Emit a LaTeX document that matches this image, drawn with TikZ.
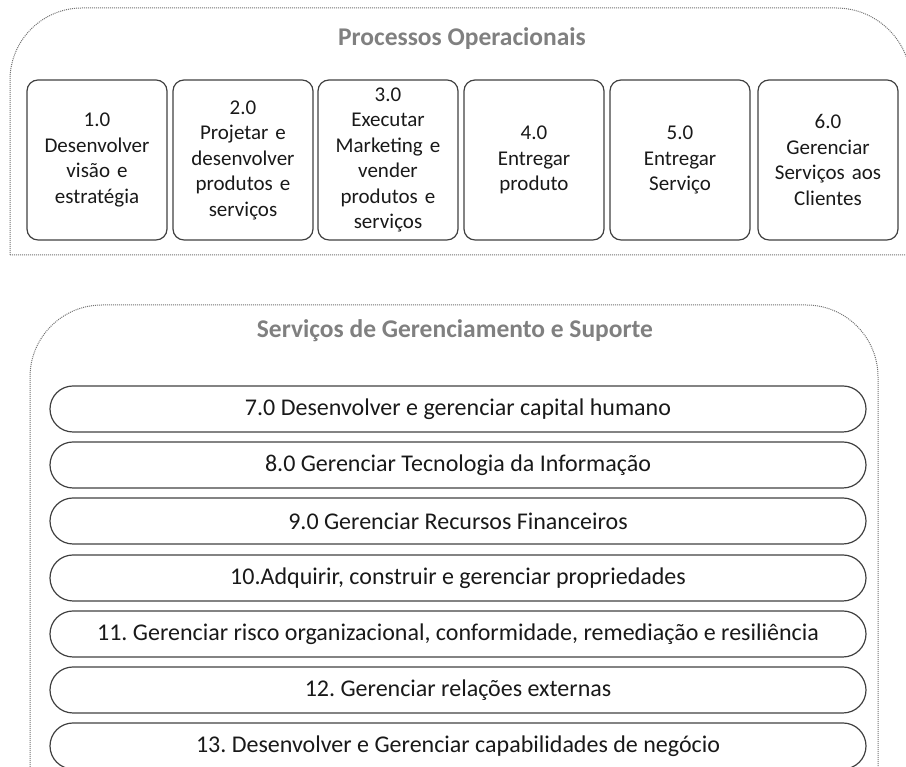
\documentclass[tikz,border=0pt]{standalone}
\usepackage{fontspec}
\setmainfont{Carlito}
\usepackage{tikz}
\frenchspacing

\tikzset{
  procbox/.style={draw=black!75, line width=1.2pt, rounded corners=11pt,
    minimum width=140pt, minimum height=160pt, text width=136pt,
    align=center, inner sep=0pt, text=black!90, font=\fontsize{21}{25.5}\selectfont},
  servpill/.style={draw=black!75, line width=1.2pt, rounded corners=23pt,
    minimum width=816pt, minimum height=46pt, inner sep=0pt,
    text=black!90, font=\fontsize{24}{26}\selectfont},
  grouptitle/.style={text=black!50, font=\fontsize{25.5}{28}\selectfont\bfseries},
  groupline/.style={draw=black!55, densely dotted, line width=1pt}
}

\begin{document}
\begin{tikzpicture}[x=1pt, y=1pt]
            \useasboundingbox (0,0) rectangle (906,767);
            \clip (0,0) rectangle (906,767);

            % processos operacionais
            \draw[groupline] (10,512) -- (10,687) arc[start angle=180, end angle=90, radius=72]
                -- (836,759) arc[start angle=90, end angle=0, radius=75] -- (911,512) -- cycle;
            \node[grouptitle] (procTitle) at (462,728) {Processos Operacionais};

            \node[procbox] (proc1) at (97,607) {1.0\\Desenvolver\\visão e\\estratégia};
            \node[procbox] (proc2) at (243,607) {2.0\\Projetar e\\desenvolver\\produtos e\\serviços};
            \node[procbox] (proc3) at (388,607) {3.0\\Executar\\Marketing e\\vender\\produtos e\\serviços};
            \node[procbox] (proc4) at (534,607) {4.0\\Entregar\\produto};
            \node[procbox] (proc5) at (680,607) {5.0\\Entregar\\Serviço};
            \node[procbox] (proc6) at (828,607) {6.0\\Gerenciar\\Serviços aos\\Clientes};

            % gerenciamento e suporte
            \draw[groupline] (30,-20) -- (30,390) arc[start angle=180, end angle=90, radius=72]
                -- (806,462) arc[start angle=90, end angle=0, radius=72] -- (878,-20);
            \node[grouptitle] (servTitle) at (455,436) {Serviços de Gerenciamento e Suporte};

            \node[servpill] (serv7) at (458,358) {7.0 Desenvolver e gerenciar capital humano};
            \node[servpill] (serv8) at (458,302) {8.0 Gerenciar Tecnologia da Informação};
            \node[servpill] (serv9) at (458,246) {9.0 Gerenciar Recursos Financeiros};
            \node[servpill] (serv10) at (458,189) {10.Adquirir, construir e gerenciar propriedades};
            \node[servpill] (serv11) at (458,133) {11. Gerenciar risco organizacional, conformidade, remediação e resiliência};
            \node[servpill] (serv12) at (458,77) {12. Gerenciar relações externas};
            \node[servpill] (serv13) at (458,21) {13. Desenvolver e Gerenciar capabilidades de negócio};
        \end{tikzpicture}
\end{document}
